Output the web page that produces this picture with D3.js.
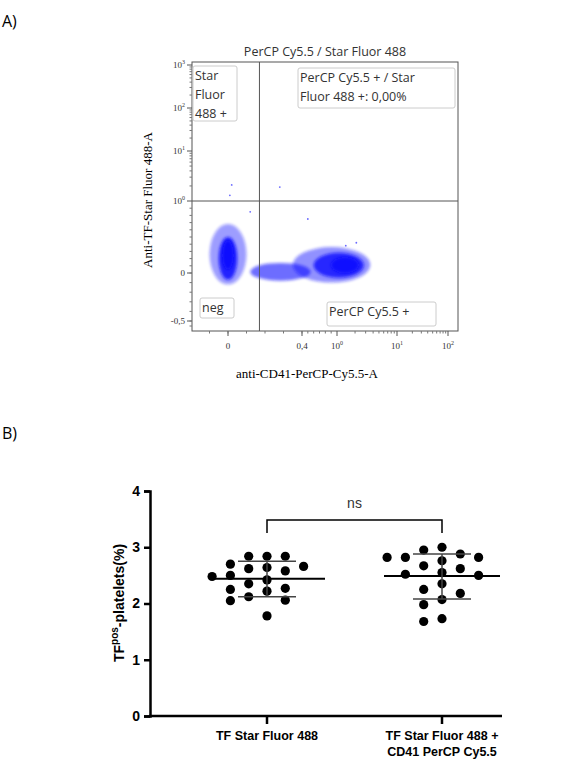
<!DOCTYPE html>
<html><head><meta charset="utf-8">
<script src="https://cdn.jsdelivr.net/npm/d3@7"></script>
<style>body{margin:0;background:#fff}</style>
</head><body>
<svg id="fig" width="561" height="767"></svg>
<script>
// panel A : gates and event populations (bounding boxes in data units)
var gateX = 0.17, gateY = 1;
var blobX0 = [-0.1, -0.05, -0.03, 0.12, 0.35, 0.6, 0.9];
var blobX1 = [ 0.1,  0.05,  0.03, 0.55, 3.6, 2.8, 2.3];
var blobY0 = [-0.12, -0.07, 0.05, -0.08, -0.1, -0.05, 0.0];
var blobY1 = [ 0.68,  0.5, 0.45, 0.14, 0.36, 0.28, 0.22];
var blobOp = [0.4, 0.85, 1, 0.6, 0.45, 0.8, 0.9];
var outX = [0.02, 0.28, 0.5, 0.01, 0.12, 1.4, 2.1];
var outY = [2.1, 1.9, 0.75, 1.3, 0.85, 0.38, 0.42];
var xTickVals = [0, 0.4, 1, 10, 100];
var xTickText = ["0", "0,4", "10^0", "10^1", "10^2"];
var yTickVals = [-0.5, 0, 1, 10, 100, 1000];
var yTickText = ["-0,5", "0", "10^0", "10^1", "10^2", "10^3"];

// panel B
var groups = ["TF Star Fluor 488", "TF Star Fluor 488 +|CD41 PerCP Cy5.5"];
var g1 = [2.84,2.84,2.84,2.58,2.62,2.64,2.66,2.70,2.48,2.50,2.35,2.22,2.25,2.27,2.12,2.05,2.06,1.78,2.42];
var g2 = [3.0,2.82,2.82,2.88,2.95,2.82,2.55,2.67,2.76,2.62,2.35,2.52,2.50,2.18,2.25,1.98,2.07,1.68,1.73];
var means = [2.44, 2.49];
var sdHi = [2.75, 2.88];
var sdLo = [2.12, 2.08];

var svg = d3.select("#fig");
svg.append("text").attr("x",2).attr("y",27).text("A)")
  .attr("font-family","Open Sans").attr("font-size",16);
svg.append("text").attr("x",2).attr("y",439).text("B)")
  .attr("font-family","Open Sans").attr("font-size",16);

// composite scales: linear near zero, log above 1
var xLin = d3.scaleLinear().domain([-0.2,0,0.4,1]).range([191,228,302,337]);
var xLog = d3.scaleLinear().domain([0,1,2,2.2]).range([337,397,448,458]);
function xA(v){ return v < 1 ? xLin(v) : xLog(Math.log10(v)); }
var yLin = d3.scaleLinear().domain([-0.7,-0.5,0,1]).range([331,321,273,201]);
var yLog = d3.scaleLinear().domain([0,1,2,3,3.1]).range([201,151,108,65,62]);
function yA(v){ return v < 1 ? yLin(v) : yLog(Math.log10(v)); }

var L = 192, R = 458, T = 62, B = 331;
svg.append("text").attr("x",(L+R)/2).attr("y",56).attr("text-anchor","middle")
  .attr("font-family","Open Sans").attr("font-size",12.5).attr("fill","#333")
  .text("PerCP Cy5.5 / Star Fluor 488");

var defs = svg.append("defs");
defs.append("filter").attr("id","bl").attr("x","-50%").attr("y","-50%").attr("width","200%").attr("height","200%")
  .append("feGaussianBlur").attr("stdDeviation",1.8);
defs.append("clipPath").attr("id","cp").append("rect")
  .attr("x",L).attr("y",T).attr("width",R-L).attr("height",B-T);

var ev = svg.append("g").attr("clip-path","url(#cp)");
ev.selectAll("ellipse").data(blobX0).enter().append("ellipse")
  .attr("cx",function(d,i){ return (xA(blobX0[i])+xA(blobX1[i]))/2; })
  .attr("cy",function(d,i){ return (yA(blobY0[i])+yA(blobY1[i]))/2; })
  .attr("rx",function(d,i){ return (xA(blobX1[i])-xA(blobX0[i]))/2; })
  .attr("ry",function(d,i){ return (yA(blobY0[i])-yA(blobY1[i]))/2; })
  .attr("fill","#1010ff").attr("opacity",function(d,i){ return blobOp[i]; })
  .attr("filter","url(#bl)");
ev.selectAll("circle").data(outX).enter().append("circle")
  .attr("cx",function(d){ return xA(d); })
  .attr("cy",function(d,i){ return yA(outY[i]); })
  .attr("r",0.9).attr("fill","#6a6aff");

svg.append("rect").attr("x",L).attr("y",T).attr("width",R-L).attr("height",B-T)
  .attr("fill","none").attr("stroke","#555").attr("stroke-width",1);
svg.append("line").attr("x1",xA(gateX)).attr("x2",xA(gateX)).attr("y1",T).attr("y2",B)
  .attr("stroke","#555");
svg.append("line").attr("x1",L).attr("x2",R).attr("y1",yA(gateY)).attr("y2",yA(gateY))
  .attr("stroke","#555");

function tickLabel(sel, s){
  var p = s.split("^");
  sel.text(p[0]);
  if (p[1]) sel.append("tspan").attr("dy",-4).attr("font-size",6).text(p[1]);
}
var tk = svg.append("g").attr("font-family","Liberation Serif").attr("font-size",9).attr("fill","#333");
xTickVals.forEach(function(v,i){
  tk.append("line").attr("x1",xA(v)).attr("x2",xA(v)).attr("y1",B).attr("y2",B+5).attr("stroke","#555");
  tk.append("text").attr("x",xA(v)).attr("y",B+18).attr("text-anchor","middle").call(tickLabel,xTickText[i]);
});
yTickVals.forEach(function(v,i){
  tk.append("line").attr("x1",L-5).attr("x2",L).attr("y1",yA(v)).attr("y2",yA(v)).attr("stroke","#555");
  tk.append("text").attr("x",L-7).attr("y",yA(v)+3).attr("text-anchor","end").call(tickLabel,yTickText[i]);
});
// minor ticks
var minX = d3.range(-0.1,1,0.1).concat(d3.range(2,10), d3.range(2,10).map(function(k){return k*10;}));
minX.forEach(function(v){
  tk.append("line").attr("x1",xA(v)).attr("x2",xA(v)).attr("y1",B).attr("y2",B+2.5).attr("stroke","#777");
});
var minY = d3.range(-0.6,1,0.1).concat(d3.range(2,10),d3.range(2,10).map(function(k){return k*10;}),
  d3.range(2,10).map(function(k){return k*100;}));
minY.forEach(function(v){
  tk.append("line").attr("x1",L-2.5).attr("x2",L).attr("y1",yA(v)).attr("y2",yA(v)).attr("stroke","#777");
});

svg.append("text").attr("x",(L+R)/2-18).attr("y",378).attr("text-anchor","middle")
  .attr("font-family","Liberation Serif").attr("font-size",13).text("anti-CD41-PerCP-Cy5.5-A");
svg.append("text").attr("transform","translate(152,200) rotate(-90)").attr("text-anchor","middle")
  .attr("font-family","Liberation Serif").attr("font-size",13).text("Anti-TF-Star Fluor 488-A");

// gate labels
function gateBox(x,y,w,h,lines){
  svg.append("rect").attr("x",x).attr("y",y).attr("width",w).attr("height",h).attr("rx",2)
    .attr("fill","#fff").attr("stroke","#ccc");
  lines.forEach(function(t,i){
    svg.append("text").attr("x",x+2).attr("y",y+14+i*19).text(t)
      .attr("font-family","Open Sans").attr("font-size",12.5).attr("fill","#333");
  });
}
gateBox(193,66,44,55,["Star","Fluor","488 +"]);
gateBox(298,68,157,40,["PerCP Cy5.5 + / Star","Fluor 488 +: 0,00%"]);
gateBox(200,298,34,20,["neg"]);
gateBox(327,302,109,24,["PerCP Cy5.5 +"]);

// ---------------- panel B ----------------
var y = d3.scaleLinear().domain([0,4]).range([716,491]);
var x = d3.scalePoint().domain([0,1]).range([267,442]);
var pb = svg.append("g");
pb.append("g").attr("transform","translate(150,0)")
  .call(d3.axisLeft(y).ticks(4).tickSize(6).tickFormat(d3.format("d")))
  .call(function(g){
    g.selectAll("path,line").attr("stroke","#000").attr("stroke-width",2.5);
    g.selectAll("text").attr("font-family","Liberation Sans").attr("font-weight","bold").attr("font-size",14).attr("dx",-1);
  });
pb.append("line").attr("x1",149).attr("x2",502).attr("y1",716).attr("y2",716)
  .attr("stroke","#000").attr("stroke-width",2.5);
[0,1].forEach(function(i){
  pb.append("line").attr("x1",x(i)).attr("x2",x(i)).attr("y1",716).attr("y2",724)
    .attr("stroke","#000").attr("stroke-width",2.5);
  groups[i].split("|").forEach(function(t,j){
    pb.append("text").attr("x",x(i)).attr("y",740+j*16).attr("text-anchor","middle").text(t)
      .attr("font-family","Liberation Sans").attr("font-weight","bold").attr("font-size",12.5);
  });
});

// dot layout: nearest free slot in column
var step = 18.3, rad = 4.6;
[g1,g2].forEach(function(vals,gi){
  var placed = [];
  vals.slice().sort(d3.descending).forEach(function(v){
    var cand = [0,-1,1,-2,2,-3,3];
    for (var c=0;c<cand.length;c++){
      var px = x(gi)+cand[c]*step, py = y(v);
      var ok = placed.every(function(p){ return Math.hypot(p[0]-px,p[1]-py) >= 2*rad+1; });
      if (ok){ placed.push([px,py]); break; }
    }
  });
  pb.selectAll(null).data(placed).enter().append("circle")
    .attr("cx",function(d){return d[0];}).attr("cy",function(d){return d[1];})
    .attr("r",rad).attr("fill","#000");
  pb.append("line").attr("x1",x(gi)-58).attr("x2",x(gi)+58).attr("y1",y(means[gi])).attr("y2",y(means[gi]))
    .attr("stroke","#000").attr("stroke-width",2);
  [sdHi[gi],sdLo[gi]].forEach(function(s){
    pb.append("line").attr("x1",x(gi)-29).attr("x2",x(gi)+29).attr("y1",y(s)).attr("y2",y(s))
      .attr("stroke","#444").attr("stroke-width",1.5);
  });
  pb.append("line").attr("x1",x(gi)).attr("x2",x(gi)).attr("y1",y(sdHi[gi])).attr("y2",y(sdLo[gi]))
    .attr("stroke","#444").attr("stroke-width",1.5);
});

// significance bracket
pb.append("path").attr("d","M"+x(0)+",533V520H"+x(1)+"V533")
  .attr("fill","none").attr("stroke","#000").attr("stroke-width",1.5);
pb.append("text").attr("x",(x(0)+x(1))/2).attr("y",508).attr("text-anchor","middle")
  .attr("font-family","Liberation Sans").attr("font-size",14).attr("fill","#333").text("ns");

pb.append("text").attr("transform","translate(124,603) rotate(-90)").attr("text-anchor","middle")
  .attr("font-family","Liberation Sans").attr("font-weight","bold").attr("font-size",14)
  .call(function(t){
    t.append("tspan").text("TF");
    t.append("tspan").attr("dy",-6).attr("font-size",10).text("pos");
    t.append("tspan").attr("dy",6).text("-platelets(%)");
  });
</script>
</body></html>
